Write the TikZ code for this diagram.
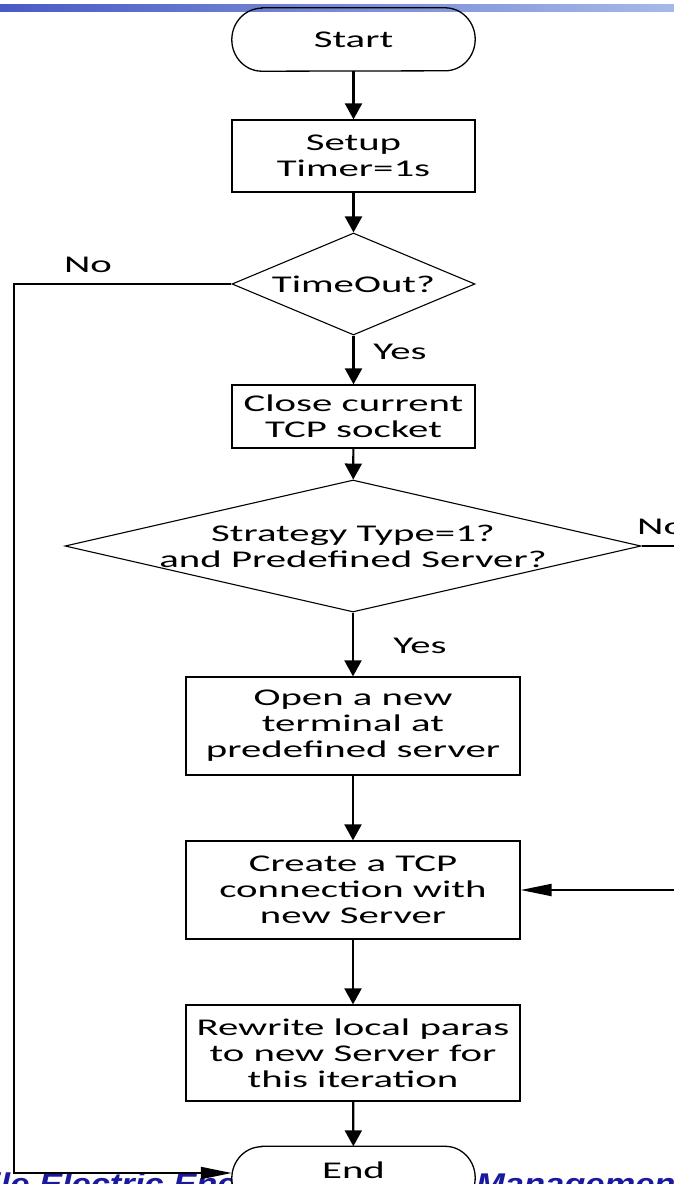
\documentclass[tikz,border=0pt]{standalone}
\usepackage{fontspec}
\newfontfamily\flowfont{Carlito}[FakeStretch=1.7]
\newfontfamily\bannerfont{Liberation Sans}[FakeStretch=1.15]
\usetikzlibrary{arrows.meta,shapes.geometric}
\pgfdeclarelayer{back}
\pgfdeclarelayer{outline}
\pgfsetlayers{back,outline,main}

\definecolor{bannerblue}{RGB}{26,26,160}
\definecolor{barleft}{RGB}{74,90,196}
\definecolor{barright}{RGB}{165,185,232}

% terminator outline (elliptic ends) around a named rectangle node
\newcommand\terminalpath[2]{%
  \draw[line width=1.3pt,#2]
    ([xshift=30pt]#1.north west) -- ([xshift=-30pt]#1.north east)
    arc[start angle=90, end angle=-90, x radius=30pt, y radius=31.5pt]
    -- ([xshift=30pt]#1.south west)
    arc[start angle=270, end angle=90, x radius=30pt, y radius=31.5pt] -- cycle;}

\begin{document}
\begin{tikzpicture}[x=1pt,y=1pt,
  txt/.style={font=\flowfont\fontsize{24}{26}\selectfont},
  process/.style={txt, draw, line width=1.3pt, rectangle, inner sep=0pt, align=center},
  terminal/.style={txt, rectangle, inner sep=0pt, minimum width=243pt, minimum height=63pt},
  decision/.style={txt, diamond, draw, line width=1.1pt, inner xsep=-300pt, inner ysep=-60pt, align=center},
  flow/.style={line width=2.2pt, -{Triangle[length=16pt,width=17pt]}},
  sideflow/.style={line width=2pt, -{Triangle[length=31pt,width=12pt]}},
  lbl/.style={txt, inner sep=0pt},
  banner/.style={anchor=base west, inner sep=0pt, text=bannerblue,
    font=\bannerfont\bfseries\itshape\fontsize{30}{32}\selectfont},
]
\useasboundingbox (0,0) rectangle (674,-1184);

% flowchart steps
\node[terminal] (start) at (353.5,-39.5) {Start};
\node[process, minimum width=243pt, minimum height=72pt] (setup) at (353.5,-156) {Setup\\Timer=1s};
\node[decision, minimum width=243pt, minimum height=102pt] (timeout) at (353.5,-284) {TimeOut?};
\node[process, minimum width=243pt, minimum height=63pt] (close) at (353.5,-416.5) {Close current\\TCP socket};
\node[decision, minimum width=576pt, minimum height=132pt] (strategy) at (353,-546) {Strategy Type=1?\\and Predefined Server?};
\node[process, minimum width=334pt, minimum height=98pt] (open) at (353,-726) {Open a new\\terminal at\\predefined server};
\node[process, minimum width=334pt, minimum height=98pt] (create) at (353,-890) {Create a TCP\\connection with\\new Server};
\node[process, minimum width=334pt, minimum height=96pt] (rewrite) at (353,-1053) {Rewrite local paras\\to new Server for\\this iteration};
\node[terminal] (end) at (353.5,-1178) {\raisebox{0pt}[0pt][0pt]{End}};

% background: title bar and footer caption
\begin{pgfonlayer}{back}
  \shade[left color=barleft, right color=barright] (0,-4) rectangle (674,-11.5);
  \node[banner] (footL) at (-80,-1194) {Mobile Electric Energy};
  \node[banner] (footR) at (476,-1194) {Management};
\end{pgfonlayer}

% terminator outlines
\begin{pgfonlayer}{outline}
  \terminalpath{start}{}
  \terminalpath{end}{fill=white}
\end{pgfonlayer}

% main flow
\draw[flow] (start) -- (setup);
\draw[flow] (setup) -- (timeout);
\draw[flow] (timeout) -- (close);
\draw[flow] (close) -- (strategy);
\draw[flow] (strategy) -- (open);
\draw[flow] (open) -- (create);
\draw[flow] (create) -- (rewrite);
\draw[flow] (rewrite) -- (end);

% branches
\coordinate (lturn) at (14,-284);
\coordinate (rturn) at (700,-546);
\draw[sideflow] (timeout.west) -- (lturn) |- ([yshift=5pt]end.west);
\draw[sideflow] (strategy.east) -- (rturn) |- (create.east);

% branch labels
\node[lbl] (no1) at (88,-265) {No};
\node[lbl] (yes1) at (400,-352) {Yes};
\node[lbl, anchor=west] (no2) at (637,-527) {No};
\node[lbl] (yes2) at (420,-646) {Yes};
\end{tikzpicture}
\end{document}
